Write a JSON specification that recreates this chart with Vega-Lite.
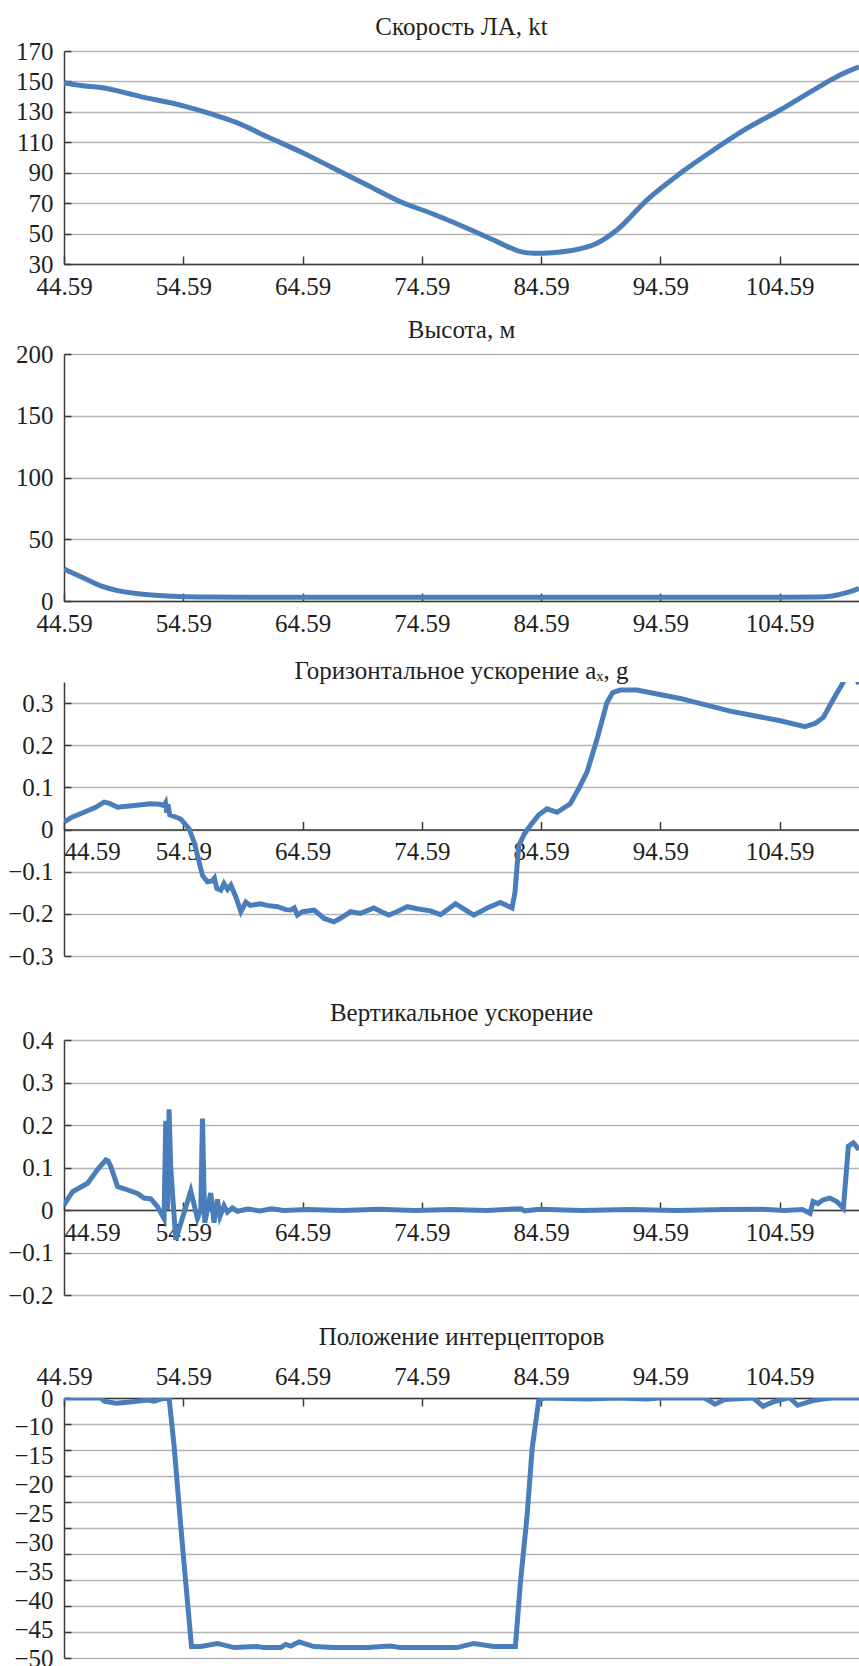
{
  "$schema": "https://vega.github.io/schema/vega-lite/v6.json",
  "background": "white",
  "padding": {"left": 4, "top": 15, "right": 0, "bottom": 0},
  "spacing": 8,
  "config": {
    "font": "Liberation Serif",
    "view": {"stroke": null},
    "axis": {
      "labelFont": "Liberation Serif",
      "labelFontSize": 25,
      "labelColor": "#231f20",
      "domainColor": "#3a3a3a",
      "domainWidth": 1.5,
      "tickColor": "#3a3a3a",
      "tickWidth": 1.5,
      "gridColor": "#b4b4b4",
      "gridWidth": 1.5,
      "labelOverlap": false
    },
    "axisX": {"tickSize": -8, "labelPadding": 30, "labelBaseline": "middle", "grid": false, "labelFlush": false},
    "axisY": {"tickSize": -7, "labelPadding": 18, "labelBaseline": "middle", "grid": true, "minExtent": 60, "maxExtent": 60},
    "title": {"font": "Liberation Serif", "fontSize": 25, "fontWeight": "normal", "color": "#231f20", "anchor": "middle", "baseline": "bottom"}
  },
  "datasets": {
    "speed": [
      {"t": 44.59, "v": 149}, {"t": 46.0, "v": 147.3}, {"t": 47.68, "v": 146}, {"t": 51.03, "v": 140}, {"t": 54.66, "v": 133.8},
      {"t": 57.0, "v": 128.5}, {"t": 59.13, "v": 122.8}, {"t": 61.64, "v": 113.6}, {"t": 64.43, "v": 103.8}, {"t": 67.2, "v": 92.9},
      {"t": 70.0, "v": 81.9}, {"t": 72.8, "v": 70.9}, {"t": 75.32, "v": 63.5}, {"t": 78.1, "v": 54.5}, {"t": 80.9, "v": 44.7},
      {"t": 82.86, "v": 38.1}, {"t": 84.0, "v": 37.0}, {"t": 85.5, "v": 37.4}, {"t": 87.0, "v": 38.7}, {"t": 89.28, "v": 43.6},
      {"t": 90.95, "v": 52.3}, {"t": 93.46, "v": 72}, {"t": 96.26, "v": 89.6}, {"t": 99.05, "v": 104.9}, {"t": 101.84, "v": 119.1},
      {"t": 104.64, "v": 131.2}, {"t": 107.43, "v": 144.3}, {"t": 109.66, "v": 154.2}, {"t": 111.25, "v": 159.6}
    ],
    "alt": [
      {"t": 44.59, "v": 26}, {"t": 46.28, "v": 18.4}, {"t": 47.68, "v": 12.2}, {"t": 49.08, "v": 8.4}, {"t": 51.03, "v": 5.7},
      {"t": 53.27, "v": 4.1}, {"t": 56.06, "v": 3.2}, {"t": 60, "v": 3}, {"t": 80, "v": 3}, {"t": 100, "v": 3}, {"t": 107.8, "v": 3.2},
      {"t": 109.0, "v": 4.0}, {"t": 109.66, "v": 5.4}, {"t": 110.5, "v": 7.5}, {"t": 111.25, "v": 10.3}
    ],
    "ax": [
      {"t": 44.59, "v": 0.018}, {"t": 45.3, "v": 0.03}, {"t": 46.28, "v": 0.041}, {"t": 47.2, "v": 0.052}, {"t": 47.96, "v": 0.065},
      {"t": 48.4, "v": 0.062}, {"t": 49.08, "v": 0.053}, {"t": 50.47, "v": 0.057}, {"t": 51.87, "v": 0.061}, {"t": 52.6, "v": 0.06},
      {"t": 52.98, "v": 0.057}, {"t": 53.1, "v": 0.063}, {"t": 53.2, "v": 0.04}, {"t": 53.3, "v": 0.06}, {"t": 53.45, "v": 0.035},
      {"t": 54.38, "v": 0.025}, {"t": 55.08, "v": 0.002}, {"t": 55.5, "v": -0.03}, {"t": 55.78, "v": -0.061}, {"t": 56.2, "v": -0.109},
      {"t": 56.62, "v": -0.124}, {"t": 57.0, "v": -0.122}, {"t": 57.2, "v": -0.115}, {"t": 57.4, "v": -0.14}, {"t": 57.74, "v": -0.144},
      {"t": 58.0, "v": -0.128}, {"t": 58.3, "v": -0.142}, {"t": 58.58, "v": -0.132}, {"t": 59.0, "v": -0.16}, {"t": 59.42, "v": -0.195},
      {"t": 59.84, "v": -0.172}, {"t": 60.2, "v": -0.18}, {"t": 61.09, "v": -0.176}, {"t": 61.6, "v": -0.18}, {"t": 62.49, "v": -0.183},
      {"t": 63.2, "v": -0.19}, {"t": 63.6, "v": -0.191}, {"t": 63.9, "v": -0.186}, {"t": 64.16, "v": -0.203}, {"t": 64.6, "v": -0.195},
      {"t": 65.56, "v": -0.191}, {"t": 66.4, "v": -0.211}, {"t": 67.22, "v": -0.219}, {"t": 67.8, "v": -0.21}, {"t": 68.62, "v": -0.195},
      {"t": 69.45, "v": -0.199}, {"t": 70.57, "v": -0.186}, {"t": 71.2, "v": -0.195}, {"t": 71.83, "v": -0.203}, {"t": 72.5, "v": -0.195},
      {"t": 73.37, "v": -0.183}, {"t": 74.2, "v": -0.188}, {"t": 75.32, "v": -0.193}, {"t": 76.16, "v": -0.202}, {"t": 77.42, "v": -0.176},
      {"t": 78.2, "v": -0.19}, {"t": 78.95, "v": -0.203}, {"t": 80.07, "v": -0.186}, {"t": 81.18, "v": -0.173}, {"t": 82.16, "v": -0.186},
      {"t": 82.4, "v": -0.15}, {"t": 82.72, "v": -0.038}, {"t": 83.2, "v": -0.01}, {"t": 83.7, "v": 0.01}, {"t": 84.4, "v": 0.035},
      {"t": 85.09, "v": 0.049}, {"t": 85.93, "v": 0.041}, {"t": 87.04, "v": 0.061}, {"t": 87.8, "v": 0.1}, {"t": 88.44, "v": 0.136},
      {"t": 89.28, "v": 0.214}, {"t": 90.11, "v": 0.301}, {"t": 90.6, "v": 0.325}, {"t": 91.23, "v": 0.331}, {"t": 92.63, "v": 0.331},
      {"t": 96.26, "v": 0.311}, {"t": 100.45, "v": 0.281}, {"t": 104.64, "v": 0.258}, {"t": 106.73, "v": 0.244}, {"t": 107.6, "v": 0.252},
      {"t": 108.26, "v": 0.266}, {"t": 109.1, "v": 0.309}, {"t": 109.94, "v": 0.35}, {"t": 110.3, "v": 0.375}, {"t": 110.8, "v": 0.37},
      {"t": 111.25, "v": 0.345}
    ],
    "az": [
      {"t": 44.59, "v": 0.012}, {"t": 45.31, "v": 0.043}, {"t": 46.57, "v": 0.063}, {"t": 47.4, "v": 0.095}, {"t": 48.1, "v": 0.118},
      {"t": 48.3, "v": 0.115}, {"t": 48.52, "v": 0.102}, {"t": 49.08, "v": 0.055}, {"t": 49.64, "v": 0.05}, {"t": 50.75, "v": 0.039},
      {"t": 51.31, "v": 0.028}, {"t": 51.87, "v": 0.026}, {"t": 52.43, "v": 0.008}, {"t": 52.98, "v": -0.02}, {"t": 53.12, "v": 0.21},
      {"t": 53.27, "v": 0.0}, {"t": 53.4, "v": 0.237}, {"t": 53.54, "v": 0.1}, {"t": 53.96, "v": -0.07}, {"t": 55.22, "v": 0.045},
      {"t": 55.78, "v": -0.02}, {"t": 56.06, "v": 0.0}, {"t": 56.2, "v": 0.215}, {"t": 56.39, "v": -0.03}, {"t": 56.89, "v": 0.04},
      {"t": 57.17, "v": -0.03}, {"t": 57.45, "v": 0.025}, {"t": 57.67, "v": -0.015}, {"t": 58.01, "v": 0.01}, {"t": 58.29, "v": -0.005},
      {"t": 58.71, "v": 0.005}, {"t": 59.13, "v": -0.003}, {"t": 60, "v": 0.002}, {"t": 61, "v": -0.002}, {"t": 62, "v": 0.003},
      {"t": 63, "v": -0.001}, {"t": 65, "v": 0.001}, {"t": 68, "v": -0.001}, {"t": 71, "v": 0.002}, {"t": 74, "v": -0.001},
      {"t": 77, "v": 0.001}, {"t": 80, "v": -0.001}, {"t": 82.9, "v": 0.003}, {"t": 83.2, "v": -0.002}, {"t": 84.5, "v": 0.002},
      {"t": 88, "v": -0.001}, {"t": 92, "v": 0.001}, {"t": 96, "v": -0.001}, {"t": 100, "v": 0.001}, {"t": 103, "v": 0.002},
      {"t": 105, "v": -0.001}, {"t": 106.5, "v": 0.001}, {"t": 107.15, "v": -0.008}, {"t": 107.4, "v": 0.02}, {"t": 107.8, "v": 0.015},
      {"t": 108.26, "v": 0.024}, {"t": 108.82, "v": 0.028}, {"t": 109.38, "v": 0.02}, {"t": 109.94, "v": 0.004}, {"t": 110.36, "v": 0.15},
      {"t": 110.78, "v": 0.158}, {"t": 111.25, "v": 0.142}
    ],
    "spoil": [
      {"t": 44.59, "v": 0}, {"t": 47.68, "v": 0}, {"t": 47.96, "v": -0.6}, {"t": 48.94, "v": -1.0}, {"t": 49.92, "v": -0.8},
      {"t": 51.6, "v": -0.4}, {"t": 52.15, "v": -0.6}, {"t": 52.7, "v": -0.2}, {"t": 53.4, "v": 0}, {"t": 53.82, "v": -9.2},
      {"t": 54.38, "v": -24.6}, {"t": 54.8, "v": -35.5}, {"t": 55.28, "v": -47.8}, {"t": 56.06, "v": -47.8}, {"t": 57.45, "v": -47.2},
      {"t": 58.85, "v": -48}, {"t": 60.8, "v": -47.8}, {"t": 61.36, "v": -48}, {"t": 62.76, "v": -48}, {"t": 63.18, "v": -47.4},
      {"t": 63.6, "v": -47.7}, {"t": 64.3, "v": -46.9}, {"t": 65.56, "v": -47.8}, {"t": 67.2, "v": -48}, {"t": 70, "v": -48},
      {"t": 71.97, "v": -47.7}, {"t": 72.8, "v": -48}, {"t": 77.55, "v": -48}, {"t": 78.95, "v": -47.2}, {"t": 80.63, "v": -47.8},
      {"t": 82.44, "v": -47.8}, {"t": 82.86, "v": -35.5}, {"t": 83.42, "v": -22.6}, {"t": 83.84, "v": -9.8}, {"t": 84.39, "v": -0.5},
      {"t": 84.81, "v": 0}, {"t": 88.5, "v": -0.2}, {"t": 91, "v": 0}, {"t": 93.5, "v": -0.2}, {"t": 94.5, "v": 0}, {"t": 98.3, "v": 0},
      {"t": 99.18, "v": -1.2}, {"t": 100, "v": -0.3}, {"t": 102.4, "v": 0}, {"t": 103.2, "v": -1.6}, {"t": 104.0, "v": -0.8},
      {"t": 105.4, "v": 0.1}, {"t": 106.1, "v": -1.4}, {"t": 107.4, "v": -0.5}, {"t": 108.2, "v": -0.2}, {"t": 109, "v": 0},
      {"t": 111.25, "v": 0}
    ]
  },
  "vconcat": [
    {
      "width": 795, "height": 213,
      "title": {"text": "Скорость ЛА, kt", "offset": -1},
      "data": {"name": "speed"},
      "mark": {"type": "line", "color": "#4a7ebb", "strokeWidth": 5, "clip": true, "interpolate": "monotone"},
      "encoding": {
        "x": {"field": "t", "type": "quantitative", "scale": {"domain": [44.59, 111.25], "nice": false, "zero": false},
              "axis": {"title": null, "values": [44.59, 54.59, 64.59, 74.59, 84.59, 94.59, 104.59], "format": ".2f", "minExtent": 46}},
        "y": {"field": "v", "type": "quantitative", "scale": {"domain": [30, 170], "nice": false, "zero": false},
              "axis": {"title": null, "values": [30, 50, 70, 90, 110, 130, 150, 170]}}
      }
    },
    {
      "width": 795, "height": 247,
      "title": {"text": "Высота, м", "offset": -1},
      "data": {"name": "alt"},
      "mark": {"type": "line", "color": "#4a7ebb", "strokeWidth": 5, "clip": true, "interpolate": "monotone"},
      "encoding": {
        "x": {"field": "t", "type": "quantitative", "scale": {"domain": [44.59, 111.25], "nice": false, "zero": false},
              "axis": {"title": null, "values": [44.59, 54.59, 64.59, 74.59, 84.59, 94.59, 104.59], "format": ".2f", "minExtent": 50}},
        "y": {"field": "v", "type": "quantitative", "scale": {"domain": [0, 200], "nice": false, "zero": false},
              "axis": {"title": null, "values": [0, 50, 100, 150, 200]}}
      }
    },
    {
      "width": 795, "height": 274,
      "title": {"text": "Горизонтальное ускорение aₓ, g", "offset": -2},
      "data": {"name": "ax"},
      "mark": {"type": "line", "color": "#4a7ebb", "strokeWidth": 5, "clip": true},
      "encoding": {
        "x": {"field": "t", "type": "quantitative", "scale": {"domain": [44.59, 111.25], "nice": false, "zero": false},
              "axis": {"title": null, "values": [44.59, 54.59, 64.59, 74.59, 84.59, 94.59, 104.59], "format": ".2f", "offset": -126.5, "minExtent": 163, "labelFlush": true}},
        "y": {"field": "v", "type": "quantitative", "scale": {"domain": [-0.3, 0.35], "nice": false, "zero": false},
              "axis": {"title": null, "values": [-0.3, -0.2, -0.1, 0, 0.1, 0.2, 0.3], "format": "~g"}}
      }
    },
    {
      "width": 795, "height": 255,
      "title": {"text": "Вертикальное ускорение", "offset": 2},
      "data": {"name": "az"},
      "mark": {"type": "line", "color": "#4a7ebb", "strokeWidth": 5, "clip": true},
      "encoding": {
        "x": {"field": "t", "type": "quantitative", "scale": {"domain": [44.59, 111.25], "nice": false, "zero": false},
              "axis": {"title": null, "values": [44.59, 54.59, 64.59, 74.59, 84.59, 94.59, 104.59], "format": ".2f", "offset": -85, "minExtent": 107, "labelFlush": true}},
        "y": {"field": "v", "type": "quantitative", "scale": {"domain": [-0.2, 0.4], "nice": false, "zero": false},
              "axis": {"title": null, "values": [-0.2, -0.1, 0, 0.1, 0.2, 0.3, 0.4], "format": "~g"}}
      }
    },
    {
      "width": 795, "height": 260,
      "title": {"text": "Положение интерцепторов", "offset": 14},
      "layer": [
        {
          "data": {"name": "spoil"},
          "mark": {"type": "line", "color": "#4a7ebb", "strokeWidth": 5, "clip": true},
          "encoding": {
            "x": {"field": "t", "type": "quantitative", "scale": {"domain": [44.59, 111.25], "nice": false, "zero": false},
                  "axis": {"title": null, "orient": "top", "values": [44.59, 54.59, 64.59, 74.59, 84.59, 94.59, 104.59], "format": ".2f"}},
            "y": {"field": "v", "type": "quantitative", "scale": {"domain": [-50, 0], "nice": false, "zero": false},
                  "axis": {"title": null, "labels": false, "values": [0, -5, -10, -15, -20, -25, -30, -35, -40, -45, -50]}}
          }
        },
        {
          "data": {"values": [{}]},
          "mark": {"type": "rule", "opacity": 0},
          "encoding": {
            "y": {"datum": 0, "type": "quantitative", "scale": {"domain": [-9, 0], "nice": false, "zero": false},
                  "axis": {"title": null, "orient": "left", "grid": false, "ticks": false, "tickSize": 0, "domain": false, "labelPadding": 11,
                           "values": [0, -1, -2, -3, -4, -5, -6, -7, -8, -9],
                           "labelExpr": "datum.value == 0 ? '0' : '−' + (5 - 5 * datum.value)"}}
          }
        }
      ],
      "resolve": {"scale": {"y": "independent"}, "axis": {"y": "independent"}}
    }
  ]
}
